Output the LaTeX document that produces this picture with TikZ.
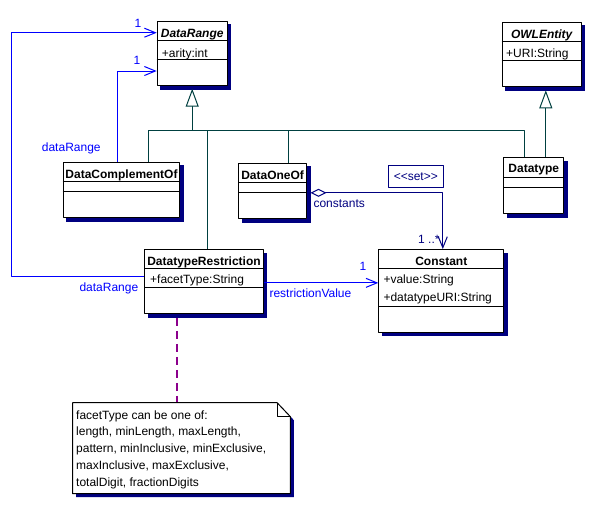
\documentclass[tikz,border=0pt]{standalone}
\usepackage{fontspec}
\setmainfont{Liberation Sans}
\usetikzlibrary{calc}
\usetikzlibrary{arrows.meta}
\usetikzlibrary{backgrounds}

\definecolor{umlblue}{RGB}{0,0,255}
\definecolor{umlnavy}{RGB}{0,0,128}
\definecolor{umlteal}{RGB}{0,64,64}
\definecolor{umlpurple}{RGB}{140,0,140}

\begin{document}
\begin{tikzpicture}[x = 1pt, y = -1pt, line join = round,
  font = \fontsize{12}{14}\selectfont,
  classbox/.style = {draw, fill = white, line width = 1pt, inner sep = 0pt,
    anchor = north west},
  title/.style = {anchor = base, inner sep = 0pt,
    font = \fontsize{12}{14}\selectfont\bfseries},
  attr/.style = {anchor = base west, inner sep = 0pt},
  role/.style = {anchor = base west, inner sep = 0pt, text = umlblue},
  assoc/.style = {draw = umlblue, line width = 1pt,
    -{Straight Barb[length = 11pt, width = 9pt]}},
  gen/.style = {draw = umlteal, line width = 1pt},
  genarrow/.style = {gen, -{Triangle[open, length = 18pt, width = 13pt,
    fill = white]}},
  aggr/.style = {draw = umlnavy, line width = 1pt,
    {Diamond[open, length = 16pt, width = 8pt, fill = white]}-{Straight
    Barb[length = 11pt, width = 9pt]}},
  notelink/.style = {draw = umlpurple, line width = 1.1pt,
    dash pattern = on 8pt off 5pt}]

  \useasboundingbox (0, 0) rectangle (593, 507);

  \node[classbox, minimum width = 70pt, minimum height = 64.3pt] (datarange)
  at (156.7, 20.7) {};
  \node[classbox, minimum width = 79pt, minimum height = 64.3pt] (owl)
  at (501.7, 21.7) {};
  \node[classbox, minimum width = 116.6pt, minimum height = 55.6pt] (dco)
  at (62.7, 161.7) {};
  \node[classbox, minimum width = 67.7pt, minimum height = 55.6pt] (doo)
  at (238.3, 162.7) {};
  \node[classbox, minimum width = 60pt, minimum height = 56pt] (dtype)
  at (503.3, 157.3) {};
  \node[classbox, minimum width = 118.4pt, minimum height = 64.3pt] (dtr)
  at (144.3, 249) {};
  \node[classbox, minimum width = 125pt, minimum height = 82.7pt] (const)
  at (378.3, 249) {};
  \node[inner sep = 0pt, minimum width = 217.3pt, minimum height = 90.6pt,
  anchor = north west] (note) at (72.7, 402.7) {};

  \begin{scope}[on background layer]
    \foreach \n in {datarange, owl, dco, doo, dtype, dtr, const}
      \fill[umlnavy] ($(\n.north west) + (3.5, 3.5)$)
      rectangle ($(\n.south east) + (3.5, 3.5)$);
    \fill[umlnavy] ($(note.north west) + (3.5, 3.5)$)
    -- ($(note.north east) + (-9.8, 3.5)$) -- ($(note.north east) + (3.5, 17.5)$)
    -- ($(note.south east) + (3.5, 3.5)$) -- ($(note.south west) + (3.5, 3.5)$)
    -- cycle;
  \end{scope}

  \foreach \n/\a/\b in {datarange/20/38.6, owl/20/39, dco/20/30, doo/20/30,
    dtype/20.4/30.4, dtr/19.7/38.3, const/19.7/57} {
    \draw[line width = 1pt] ($(\n.north west) + (0, \a)$)
    -- ($(\n.north east) + (0, \a)$);
    \draw[line width = 1pt] ($(\n.north west) + (0, \b)$)
    -- ($(\n.north east) + (0, \b)$);
  }

  \node[title] at ($(datarange.north) + (0, 16.6)$) {\itshape DataRange};
  \node[attr] at ($(datarange.north west) + (5, 36.3)$) {+arity:int};
  \node[title] at ($(owl.north) + (0, 16.6)$) {\itshape OWLEntity};
  \node[attr] at ($(owl.north west) + (4.3, 35.3)$) {+URI:String};
  \node[title] at ($(dco.north) + (0, 16.5)$) {DataComplementOf};
  \node[title] at ($(doo.north) + (0, 16.5)$) {DataOneOf};
  \node[title] at ($(dtype.north) + (0, 15.5)$) {Datatype};
  \node[title] at ($(dtr.north) + (0, 16)$) {DatatypeRestriction};
  \node[attr] at ($(dtr.north west) + (5.7, 34)$) {+facetType:String};
  \node[title] at ($(const.north) + (0, 16)$) {Constant};
  \node[attr] at ($(const.north west) + (5, 34)$) {+value:String};
  \node[attr] at ($(const.north west) + (5, 52)$) {+datatypeURI:String};

  \coordinate (bus) at ($(datarange.south) + (0, 44.3)$);
  \foreach \n/\dx in {dco/27.3, dtr/3.8, doo/16.1, dtype/-9}
    \draw[gen] ($(\n.north) + (\dx, 0)$) |- (bus);
  \draw[genarrow] (bus) -- ($(datarange.south) + (0, 2.7)$);
  \draw[genarrow] ($(dtype.north) + (12, 0)$) -- ($(owl.south) + (4.1, 3.3)$);

  \coordinate (dr1) at ($(dtr.north west) + (0, 27)$);
  \coordinate (dr2) at ($(datarange.north west) + (0, 12)$);
  \draw[assoc] (dr1) -- ++(-132.6, 0) |- (dr2);
  \coordinate (dc1) at ($(dco.north) + (-3.7, 0)$);
  \coordinate (dr3) at ($(datarange.north west) + (0, 50.3)$);
  \draw[assoc] (dc1) |- (dr3);
  \coordinate (rv) at ($(dtr.east) + (0, 1.2)$);
  \draw[assoc] (rv) -- (rv -| const.west);
  \coordinate (ag) at ($(doo.east) + (3.5, 1.8)$);
  \draw[aggr] (ag) -| ($(const.north) + (1.5, 0)$);

  \node[role] at (134.5, 27) {1};
  \node[role] at (133.5, 64) {1};
  \node[role] at (41.7, 151) {dataRange};
  \node[role] at (79.3, 291) {dataRange};
  \node[role] at (269.3, 297) {restrictionValue};
  \node[role] at (359.3, 270) {1};
  \node[role, text = umlnavy] at (418, 243) {1 ..*};
  \node[role, text = umlnavy] at (313.3, 207) {constants};
  \node[draw = umlnavy, line width = 1pt, text = umlnavy, minimum width = 55pt,
  minimum height = 21.6pt, inner sep = 0pt] (set) at (415.8, 176.5)
  {<\kern0pt<set>\kern0pt>};

  \coordinate (nl) at ($(dtr.south) + (-27, 3.5)$);
  \draw[notelink] (nl) -- (nl |- note.north);

  \draw[line width = 1pt, fill = white] (note.north west)
  -- ($(note.north east) + (-13.3, 0)$) -- ($(note.north east) + (0, 14)$)
  -- (note.south east) -- (note.south west) -- cycle;
  \draw[line width = 1pt] ($(note.north east) + (-13.3, 0)$)
  -- ($(note.north east) + (-13.3, 14)$) -- ($(note.north east) + (0, 14)$);
  \foreach \t [count = \i from 0] in {{facetType can be one of:},
    {length, minLength, maxLength,},
    {pattern, minInclusive, minExclusive,},
    {maxInclusive, maxExclusive,}, {totalDigit, fractionDigits}}
    \node[attr] at ($(note.north west) + (3.3, 16.3 + 16.75 * \i)$) {\t};
\end{tikzpicture}
\end{document}
